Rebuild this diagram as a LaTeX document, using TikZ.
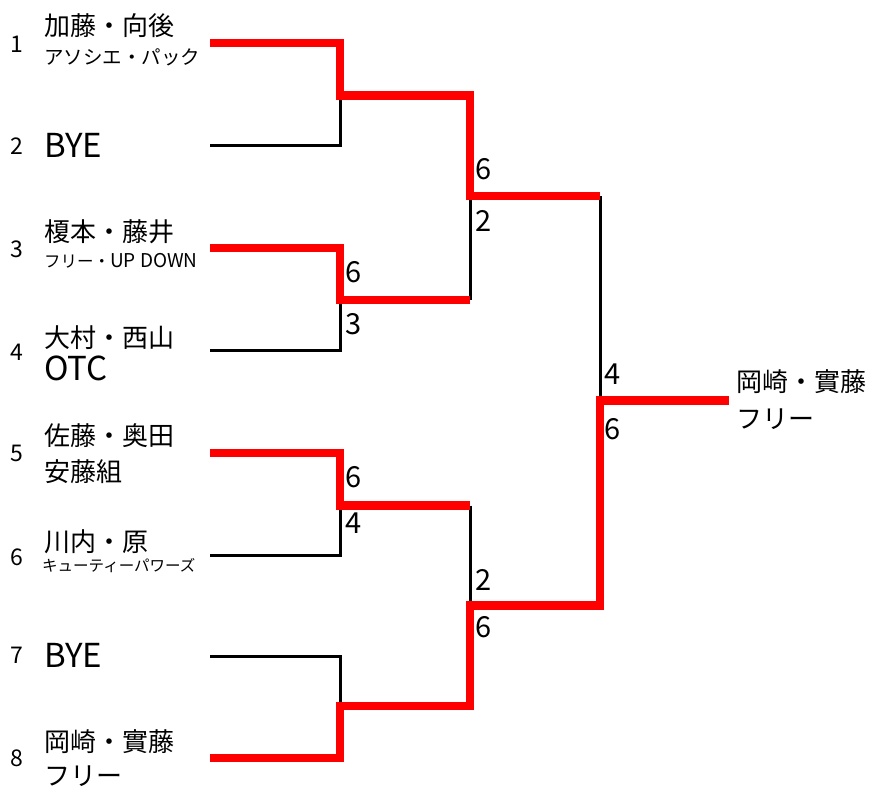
\documentclass[tikz,border=0pt]{standalone}
\usepackage{fontspec}
\setmainfont{Noto Sans CJK JP}
\tikzset{
  blk/.style={line width=3pt, black, line join=miter},
  win/.style={line width=8.5pt, red, line join=miter},
  nm/.style={anchor=base west, inner sep=0pt, font=\fontsize{26}{30}\selectfont},
  lat/.style={anchor=base west, inner sep=0pt, font=\fontsize{33}{36}\selectfont},
  subt/.style={anchor=base west, inner sep=0pt, font=\fontsize{#1}{#1}\selectfont},
  seed/.style={anchor=base, inner sep=0pt, font=\fontsize{23}{26}\selectfont},
  score/.style={anchor=base west, inner sep=0pt, font=\fontsize{29}{32}\selectfont},
}
\begin{document}
\begin{tikzpicture}[x=1pt,y=-1pt]
\useasboundingbox (0,0) rectangle (874,803);
% coordinates
\coordinate (e1) at (210,43);
\coordinate (e2) at (210,145);
\coordinate (e3) at (210,248);
\coordinate (e4) at (210,350);
\coordinate (e5) at (210,453);
\coordinate (e6) at (210,555);
\coordinate (e7) at (210,656);
\coordinate (e8) at (210,758);
\coordinate (m1) at (340,95.5);
\coordinate (m2) at (340,300);
\coordinate (m3) at (340,505.5);
\coordinate (m4) at (340,706);
\coordinate (n2) at (470,300);
\coordinate (n3) at (470,505.5);
\coordinate (s1) at (470,196);
\coordinate (s2) at (470,605.5);
\coordinate (t1) at (600,196);
\coordinate (f) at (600,400.5);
\coordinate (w) at (729,400.5);
% losers' lines
\draw[blk] (e2) -| (m1);
\draw[blk] (e4) -| (m2);
\draw[blk] (e6) -| (m3);
\draw[blk] (e7) -| (m4);
\draw[blk] (n2) -- (s1);
\draw[blk] (n3) -- (s2);
\draw[blk] (t1) -- (f);
% winners' lines
\draw[win] (e1) -| (m1) -| (s1) -- (t1);
\draw[win] (e3) -| (m2) -- (n2);
\draw[win] (e5) -| (m3) -- (n3);
\draw[win] (e8) -| (m4) -| (s2) -| (f) -- (w);
% seeds
\node[seed] (d1) at (17,52.3) {1};
\node[seed] (d2) at (17,154) {2};
\node[seed] (d3) at (17,257) {3};
\node[seed] (d4) at (17,360) {4};
\node[seed] (d5) at (17,461) {5};
\node[seed] (d6) at (17,565) {6};
\node[seed] (d7) at (17,663) {7};
\node[seed] (d8) at (17,766) {8};
% names
\node[nm] (p1) at (44,35.5) {加藤・向後};
\node[subt=19.5] (q1) at (44,64) {アソシエ・パック};
\node[lat] (p2) at (44,157) {BYE};
\node[nm] (p3) at (44,241) {榎本・藤井};
\node[subt=16.5] (q3) at (44,267) {フリー・{\fontsize{19}{19}\selectfont UP DOWN}};
\node[nm] (p4) at (44,347) {大村・西山};
\node[lat] (q4) at (44,380) {OTC};
\node[nm] (p5) at (44,445) {佐藤・奥田};
\node[nm] (q5) at (44,481) {安藤組};
\node[nm] (p6) at (44,551) {川内・原};
\node[subt=15.5] (q6) at (42,571.5) {キューティーパワーズ};
\node[lat] (p7) at (44,667) {BYE};
\node[nm] (p8) at (44,751) {岡崎・實藤};
\node[nm] (q8) at (44,785) {フリー};
\node[nm] (pw) at (736,391) {岡崎・實藤};
\node[nm] (qw) at (736,428) {フリー};
% scores
\node[score] (a1) at (345,282.5) {6};
\node[score] (a2) at (345,334.5) {3};
\node[score] (a3) at (345,487.5) {6};
\node[score] (a4) at (345,533) {4};
\node[score] (b1) at (475,179.5) {6};
\node[score] (b2) at (475,231) {2};
\node[score] (b3) at (475,590.5) {2};
\node[score] (b4) at (475,637.5) {6};
\node[score] (c1) at (604,384.5) {4};
\node[score] (c2) at (604,439.5) {6};
\end{tikzpicture}
\end{document}
